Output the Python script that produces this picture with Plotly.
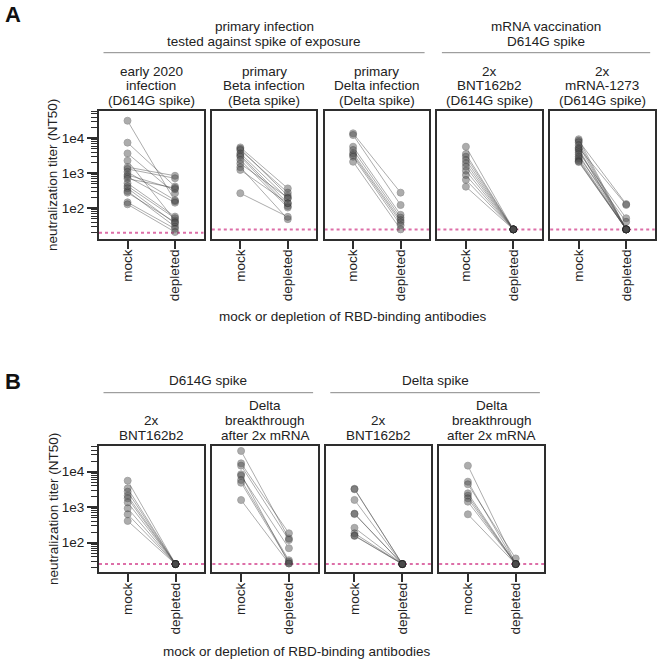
import plotly.graph_objects as go

W, H = 660, 659
FONT = "Liberation Sans, Arial, sans-serif"
TXT = "#222222"
FRAME = "#2e2e2e"

conditions = ["mock", "depleted"]

# ---------------- Panel A data ----------------
a1_mock = [31800, 7500, 3700, 2300, 1500, 1330, 1100, 900, 800, 700, 520, 430, 375, 310, 280, 148, 130]
a1_depleted = [160, 420, 270, 45, 850, 720, 170, 350, 145, 380, 58, 52, 37, 30, 40, 26, 21]
a2_mock = [5500, 5000, 4600, 3700, 3300, 3000, 2400, 1900, 1500, 1250, 270]
a2_depleted = [370, 230, 280, 190, 140, 116, 105, 200, 49, 140, 57]
a3_mock = [13900, 12400, 5750, 4640, 3720, 3320, 2980, 2140]
a3_depleted = [280, 124, 65, 54, 46, 40, 33, 25]
a4_mock = [5750, 3550, 2980, 2400, 1930, 1550, 1190, 890, 650, 415]
a4_depleted = [25, 25, 25, 25, 25, 25, 25, 25, 25, 25]
a5_mock = [9400, 8500, 7700, 6400, 5400, 5000, 4600, 4000, 3500, 3000, 2700, 2400, 2200, 2100]
a5_depleted = [25, 132, 25, 25, 125, 25, 25, 52, 25, 41, 25, 25, 25, 25]

a_lod = [20, 25, 25, 25, 25]
a_titles = [
    ["early 2020", "infection", "(D614G spike)"],
    ["primary", "Beta infection", "(Beta spike)"],
    ["primary", "Delta infection", "(Delta spike)"],
    ["2x", "BNT162b2", "(D614G spike)"],
    ["2x", "mRNA-1273", "(D614G spike)"],
]
a_groups = [["primary infection", "tested against spike of exposure"], ["mRNA vaccination", "D614G spike"]]

# ---------------- Panel B data ----------------
b1_mock = [5570, 3390, 2730, 2110, 1780, 1370, 930, 630, 410]
b1_depleted = [25, 25, 25, 25, 25, 25, 25, 25, 25]
b2_mock = [38400, 17200, 14800, 8440, 7710, 5840, 4900, 1590]
b2_depleted = [132, 184, 119, 26, 70, 32, 29, 26]
b3_mock = [3300, 3200, 1600, 660, 640, 262, 184, 160, 155]
b3_depleted = [25, 25, 25, 25, 25, 25, 25, 25, 25]
b4_mock = [14800, 5230, 4410, 2460, 2110, 1780, 1430, 630]
b4_depleted = [25, 25, 36, 25, 25, 25, 25, 25]

b_lod = [25, 25, 25, 25]
b_titles = [
    ["", "2x", "BNT162b2"],
    ["Delta", "breakthrough", "after 2x mRNA"],
    ["", "2x", "BNT162b2"],
    ["Delta", "breakthrough", "after 2x mRNA"],
]
b_groups = [["D614G spike"], ["Delta spike"]]

y_title = "neutralization titer (NT50)"
x_title = "mock or depletion of RBD-binding antibodies"
y_tickvals = [100, 1000, 10000]
y_ticktext = ["1e2", "1e3", "1e4"]

a_series = [(a1_mock, a1_depleted), (a2_mock, a2_depleted), (a3_mock, a3_depleted),
            (a4_mock, a4_depleted), (a5_mock, a5_depleted)]
b_series = [(b1_mock, b1_depleted), (b2_mock, b2_depleted), (b3_mock, b3_depleted),
            (b4_mock, b4_depleted)]


def px(x):
    return x / W


def py(y):
    return 1 - y / H


fig = go.Figure()
layout = dict(width=W, height=H, margin=dict(l=0, r=0, t=0, b=0),
              paper_bgcolor="white", plot_bgcolor="white", showlegend=False,
              font=dict(family=FONT, size=13.5, color=TXT))
annotations = []
shapes = []

rows = [
    dict(series=a_series, lod=a_lod, titles=a_titles, x0=99, w=104.5, step=112.8,
         top=111, bottom=239, yrange=[1.123, 4.78], title_ys=[71.5, 86, 100.5],
         xtitle_y=316, xtitle_x=352),
    dict(series=b_series, lod=b_lod, titles=b_titles, x0=99, w=105.2, step=113.4,
         top=445.7, bottom=572.3, yrange=[1.166, 4.732], title_ys=[405, 420, 435],
         xtitle_y=651, xtitle_x=296),
]

n = 0
for r, row in enumerate(rows):
    for i, (mock, dep) in enumerate(row["series"]):
        n += 1
        xa = "x" if n == 1 else f"x{n}"
        ya = "y" if n == 1 else f"y{n}"
        xl = row["x0"] + i * row["step"]
        xr = xl + row["w"]
        for m, d in zip(mock, dep):
            fig.add_trace(go.Scatter(
                x=conditions, y=[m, d], mode="lines+markers", xaxis=xa, yaxis=ya,
                opacity=0.45, hoverinfo="skip",
                line=dict(color="#4a4a4a", width=1),
                marker=dict(size=7, color="#4a4a4a",
                            line=dict(width=0.8, color="#222222"))))
        first = (i == 0)
        layout["xaxis" if n == 1 else f"xaxis{n}"] = dict(
            domain=[px(xl), px(xr)], anchor=ya, type="category",
            range=[-0.6, 1.6], showline=True, linewidth=2, linecolor=FRAME,
            mirror=True, showgrid=False, zeroline=False, fixedrange=True,
            ticks="outside", ticklen=8, tickwidth=2, tickcolor=FRAME,
            tickangle=-90, ticklabelstandoff=-5, tickfont=dict(size=13.5, color=TXT))
        ydict = dict(
            domain=[py(row["bottom"]), py(row["top"])], anchor=xa, type="log",
            range=row["yrange"], showline=True, linewidth=2, linecolor=FRAME,
            mirror=True, showgrid=False, zeroline=False, fixedrange=True)
        if first:
            ydict.update(tickmode="array", tickvals=y_tickvals, ticktext=y_ticktext,
                         ticks="outside", ticklen=10, tickwidth=2, tickcolor=FRAME,
                         tickfont=dict(size=13.5, color=TXT),
                         minor=dict(ticks="outside", ticklen=6, tickwidth=1,
                                    tickcolor=FRAME, dtick="D1", showgrid=False))
        else:
            ydict.update(showticklabels=False, ticks="")
        layout["yaxis" if n == 1 else f"yaxis{n}"] = ydict

        shapes.append(dict(type="line", xref=f"{xa} domain", x0=0, x1=1,
                           yref=ya, y0=row["lod"][i], y1=row["lod"][i],
                           line=dict(color="#dd6fa8", width=2, dash="dot"),
                           layer="below"))
        cx = (xl + xr) / 2
        for ty, t in zip(row["title_ys"], row["titles"][i]):
            if t:
                annotations.append(dict(text=t, x=px(cx), y=py(ty), xref="paper",
                                        yref="paper", showarrow=False,
                                        xanchor="center", yanchor="middle",
                                        font=dict(size=13.5, color=TXT)))
    # y title
    annotations.append(dict(text=y_title, x=px(53), y=py((row["top"] + row["bottom"]) / 2),
                            xref="paper", yref="paper", showarrow=False, textangle=-90,
                            xanchor="center", yanchor="middle", font=dict(size=13.5, color=TXT)))
    annotations.append(dict(text=x_title, x=px(row["xtitle_x"]), y=py(row["xtitle_y"]),
                            xref="paper", yref="paper", showarrow=False,
                            xanchor="center", yanchor="middle", font=dict(size=13.5, color=TXT)))

# group headers row A
groupA = [(0, 2, a_groups[0]), (3, 4, a_groups[1])]
for s, e, lines in groupA:
    xl = 99 + s * 112.8 + 4.5
    xr = 99 + e * 112.8 + 104.5 - 4.5
    shapes.append(dict(type="line", xref="paper", yref="paper", x0=px(xl), x1=px(xr),
                       y0=py(52.7), y1=py(52.7), line=dict(color="#888888", width=1)))
    for ty, t in zip([26.7, 41.7], lines):
        annotations.append(dict(text=t, x=px((xl + xr) / 2), y=py(ty), xref="paper",
                                yref="paper", showarrow=False, xanchor="center",
                                yanchor="middle", font=dict(size=13.5, color=TXT)))
groupB = [(0, 1, b_groups[0]), (2, 3, b_groups[1])]
for s, e, lines in groupB:
    xl = 99 + s * 113.4 + 4.5
    xr = 99 + e * 113.4 + 105.2 - 4.5
    shapes.append(dict(type="line", xref="paper", yref="paper", x0=px(xl), x1=px(xr),
                       y0=py(392.7), y1=py(392.7), line=dict(color="#888888", width=1)))
    for ty, t in zip([380], lines):
        annotations.append(dict(text=t, x=px((xl + xr) / 2), y=py(ty), xref="paper",
                                yref="paper", showarrow=False, xanchor="center",
                                yanchor="middle", font=dict(size=13.5, color=TXT)))

# panel letters
for letter, ly in [("A", 15), ("B", 381)]:
    annotations.append(dict(text=f"<b>{letter}</b>", x=px(12.5), y=py(ly), xref="paper",
                            yref="paper", showarrow=False, xanchor="center",
                            yanchor="middle", font=dict(size=22, color="#111111")))

layout["annotations"] = annotations
layout["shapes"] = shapes
fig.update_layout(**layout)
fig.write_html("out.html", config={"displayModeBar": False, "staticPlot": True},
               post_script="document.body.style.margin='0';document.body.style.overflow='hidden';")
